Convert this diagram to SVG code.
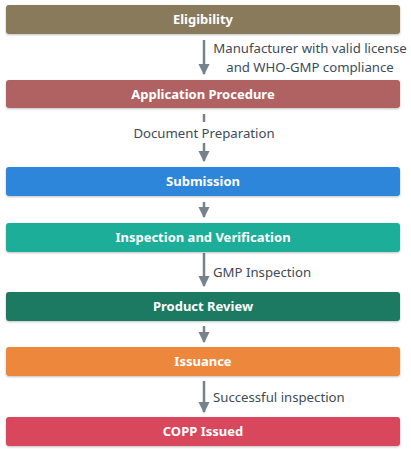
<svg xmlns="http://www.w3.org/2000/svg" width="411" height="449" viewBox="0 0 411 449">
<defs>
<filter id="sh" x="-5%" y="-30%" width="110%" height="160%"><feDropShadow dx="0" dy="1" stdDeviation="1.2" flood-color="#000" flood-opacity="0.25"/></filter>
<marker id="ah" viewBox="0 0 10 10" refX="9" refY="5" markerWidth="4.5" markerHeight="4.5" orient="auto"><path d="M0,0 L10,5 L0,10 z" fill="#76838f"/></marker>
<style>
.box{filter:url(#sh)}
.bt{font-family:"Noto Sans","Open Sans",sans-serif;font-weight:bold;font-size:13px;fill:#fff;text-anchor:middle}
.lt{font-family:"Noto Sans","Open Sans",sans-serif;font-size:13.2px;fill:#3e4a56}
.ln{stroke:#76838f;stroke-width:2.5;fill:none}
</style>
</defs>
<rect width="411" height="449" fill="#fff"/>
<g id="connectors">
<line class="ln" x1="204" y1="40" x2="204" y2="74" marker-end="url(#ah)"/>
<text class="lt" x="310" y="53" text-anchor="middle">Manufacturer with valid license</text>
<text class="lt" x="310" y="72" text-anchor="middle">and WHO-GMP compliance</text>
<line class="ln" x1="204" y1="114" x2="204" y2="122"/>
<line class="ln" x1="204" y1="143" x2="204" y2="161" marker-end="url(#ah)"/>
<text class="lt" x="204" y="138" text-anchor="middle">Document Preparation</text>
<line class="ln" x1="204" y1="202" x2="204" y2="217" marker-end="url(#ah)"/>
<line class="ln" x1="204" y1="253" x2="204" y2="286" marker-end="url(#ah)"/>
<text class="lt" x="213" y="277">GMP Inspection</text>
<line class="ln" x1="204" y1="326" x2="204" y2="342" marker-end="url(#ah)"/>
<line class="ln" x1="204" y1="381" x2="204" y2="412" marker-end="url(#ah)"/>
<text class="lt" x="213" y="402">Successful inspection</text>
</g>
<g id="eligibility"><rect class="box" x="6" y="5" width="394" height="29" rx="3" fill="#8a7a5c"/><text class="bt" x="203" y="24">Eligibility</text></g>
<g id="application"><rect class="box" x="6" y="80" width="394" height="28" rx="3" fill="#b06262"/><text class="bt" x="203" y="99">Application Procedure</text></g>
<g id="submission"><rect class="box" x="6" y="167" width="394" height="29" rx="3" fill="#2e86da"/><text class="bt" x="203" y="186">Submission</text></g>
<g id="inspection"><rect class="box" x="6" y="223" width="394" height="29" rx="3" fill="#1dae98"/><text class="bt" x="203" y="242">Inspection and Verification</text></g>
<g id="review"><rect class="box" x="6" y="292" width="394" height="29" rx="3" fill="#1f7a62"/><text class="bt" x="203" y="311">Product Review</text></g>
<g id="issuance"><rect class="box" x="6" y="347" width="394" height="29" rx="3" fill="#ec873b"/><text class="bt" x="203" y="366">Issuance</text></g>
<g id="copp"><rect class="box" x="6" y="417" width="394" height="29" rx="3" fill="#d8465c"/><text class="bt" x="203" y="436">COPP Issued</text></g>
</svg>
